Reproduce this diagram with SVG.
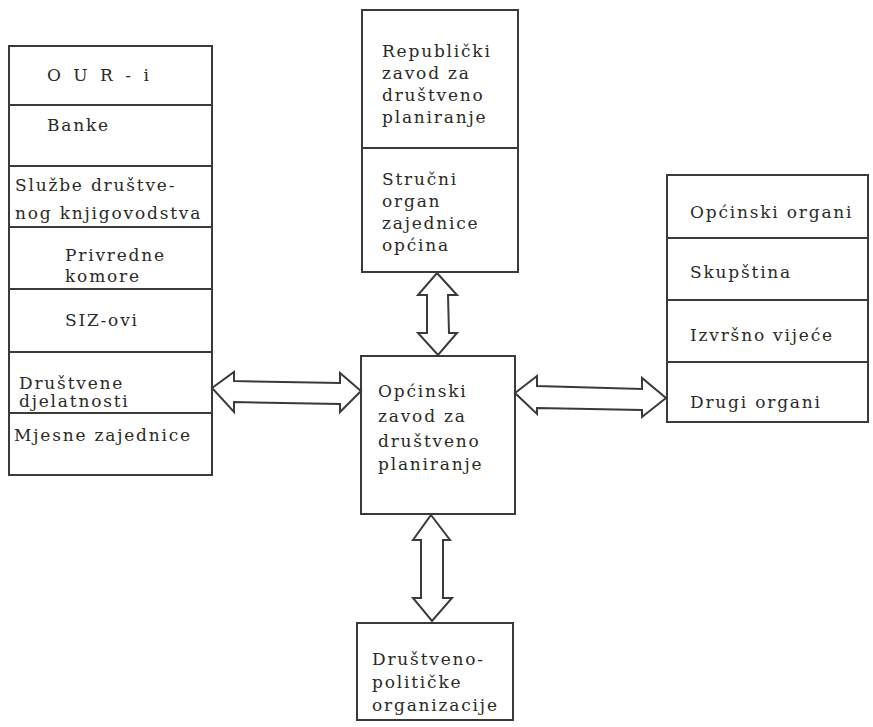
<svg xmlns="http://www.w3.org/2000/svg" width="873" height="727" viewBox="0 0 873 727">
<style>
.b{fill:#fff;stroke:#3a3a36;stroke-width:2}
.l{stroke:#3a3a36;stroke-width:2;fill:none}
.a{fill:#fff;stroke:#3a3a36;stroke-width:2;stroke-linejoin:miter}
text{font-family:"DejaVu Serif","Liberation Serif",serif;font-size:17px;fill:#2a2a26;letter-spacing:1.8px}
</style>
<rect width="873" height="727" fill="#fff"/>
<g id="left-column">
<rect class="b" x="9" y="46" width="203" height="429"/>
<line class="l" x1="9" y1="105" x2="212" y2="105"/>
<line class="l" x1="9" y1="166" x2="212" y2="166"/>
<line class="l" x1="9" y1="227" x2="212" y2="227"/>
<line class="l" x1="9" y1="289" x2="212" y2="289"/>
<line class="l" x1="9" y1="352" x2="212" y2="352"/>
<line class="l" x1="9" y1="413" x2="212" y2="413"/>
<text x="47" y="81" style="letter-spacing:3.5px">O U R - i</text>
<text x="47" y="131">Banke</text>
<text x="15" y="191">Službe društve-</text>
<text x="15" y="219">nog knjigovodstva</text>
<text x="65" y="261">Privredne</text>
<text x="65" y="282">komore</text>
<text x="65" y="326">SIZ-ovi</text>
<text x="19" y="389">Društvene</text>
<text x="19" y="407">djelatnosti</text>
<text x="14" y="441">Mjesne zajednice</text>
</g>
<g id="top-box">
<rect class="b" x="362" y="10" width="156" height="262"/>
<line class="l" x1="362" y1="148" x2="518" y2="148"/>
<text x="382" y="57">Republički</text>
<text x="382" y="79">zavod za</text>
<text x="382" y="101">društveno</text>
<text x="382" y="123">planiranje</text>
<text x="382" y="185">Stručni</text>
<text x="382" y="207">organ</text>
<text x="382" y="229">zajednice</text>
<text x="382" y="251">općina</text>
</g>
<g id="center-box">
<rect class="b" x="361" y="356" width="154" height="158"/>
<text x="378" y="397">Općinski</text>
<text x="378" y="422">zavod za</text>
<text x="378" y="447">društveno</text>
<text x="378" y="470">planiranje</text>
</g>
<g id="right-column">
<rect class="b" x="667" y="175" width="201" height="247"/>
<line class="l" x1="667" y1="238" x2="868" y2="238"/>
<line class="l" x1="667" y1="300" x2="868" y2="300"/>
<line class="l" x1="667" y1="362" x2="868" y2="362"/>
<text x="690" y="218">Općinski organi</text>
<text x="690" y="278">Skupština</text>
<text x="690" y="341">Izvršno vijeće</text>
<text x="690" y="408">Drugi organi</text>
</g>
<g id="bottom-box">
<rect class="b" x="357" y="623" width="156" height="97"/>
<text x="372" y="665">Društveno-</text>
<text x="372" y="688">političke</text>
<text x="372" y="711">organizacije</text>
</g>
<g id="connectors">
<polygon class="a" points="212,388 234,372 234,381 340,383 340,373 361,391 340,412 340,404 234,402 234,412"/>
<polygon class="a" points="515,393 537,376 537,386 642,389 642,378 666,398 642,417 642,410 537,408 537,414"/>
<polygon class="a" points="437,273 457,295 448,295 449,333 457,333 438,355 418,333 427,333 427,295 418,295"/>
<polygon class="a" points="431,515 450,540 443,540 443,598 452,598 432,621 413,598 421,598 421,540 413,540"/>
</g>
</svg>
